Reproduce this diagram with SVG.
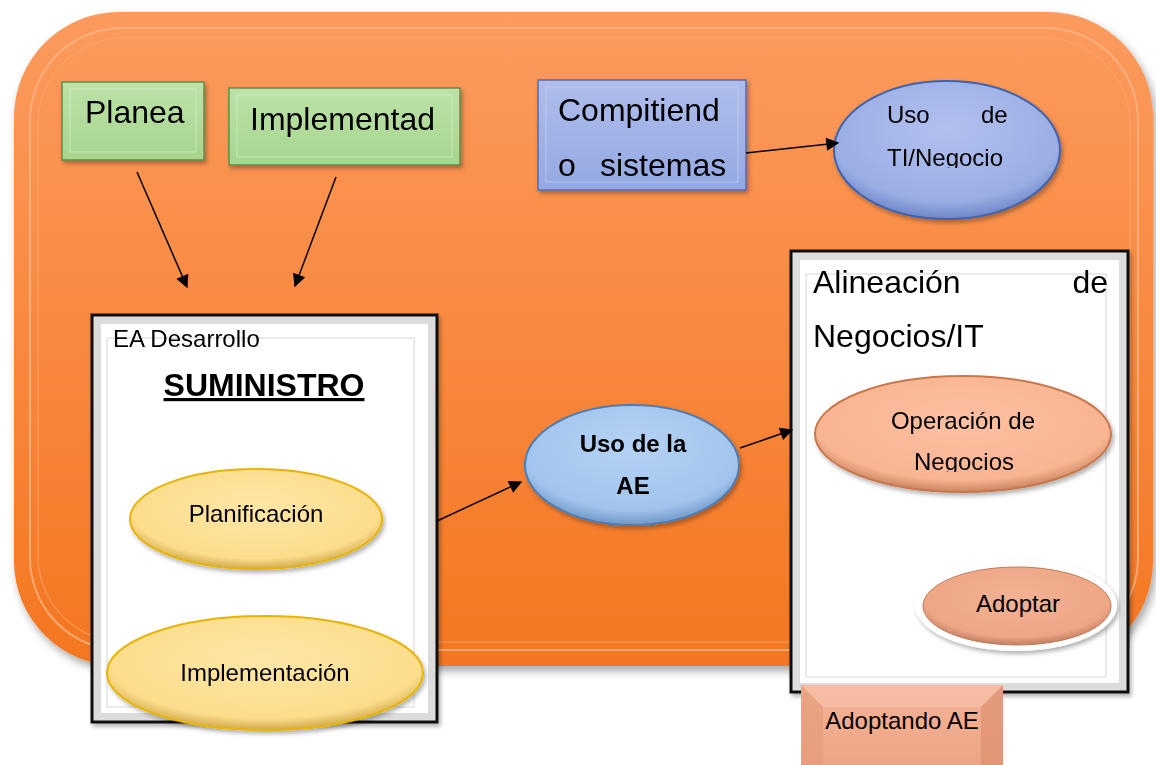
<svg xmlns="http://www.w3.org/2000/svg" width="1156" height="765" viewBox="0 0 1156 765">
<defs>
<linearGradient id="gOr" x1="0" y1="0" x2="0" y2="1"><stop offset="0" stop-color="#FC9B5E"/><stop offset="1" stop-color="#F47620"/></linearGradient>
<linearGradient id="gGreen" x1="0" y1="0" x2="0" y2="1"><stop offset="0" stop-color="#BDE2A8"/><stop offset="1" stop-color="#A6D58E"/></linearGradient>
<linearGradient id="gBlue" x1="0" y1="0" x2="0" y2="1"><stop offset="0" stop-color="#AEBDEB"/><stop offset="1" stop-color="#94A9E2"/></linearGradient>
<radialGradient id="gBlueE" cx="0.5" cy="0.35" r="0.65"><stop offset="0" stop-color="#B2C0EE"/><stop offset="0.8" stop-color="#9AAEE4"/><stop offset="1" stop-color="#6E86C8"/></radialGradient>
<radialGradient id="gLBlue" cx="0.5" cy="0.35" r="0.65"><stop offset="0" stop-color="#B4D2F4"/><stop offset="0.8" stop-color="#A2C4EC"/><stop offset="1" stop-color="#6E98C8"/></radialGradient>
<radialGradient id="gYel" cx="0.5" cy="0.4" r="0.62"><stop offset="0" stop-color="#FEE6A6"/><stop offset="0.8" stop-color="#FCDD8C"/><stop offset="1" stop-color="#C8A040"/></radialGradient>
<radialGradient id="gSal" cx="0.5" cy="0.4" r="0.62"><stop offset="0" stop-color="#FCC0A2"/><stop offset="0.8" stop-color="#F9B492"/><stop offset="1" stop-color="#C07A56"/></radialGradient>
<radialGradient id="gSal2" cx="0.5" cy="0.4" r="0.62"><stop offset="0" stop-color="#F2B294"/><stop offset="0.8" stop-color="#EEA686"/><stop offset="1" stop-color="#B8785A"/></radialGradient>
<linearGradient id="gSalBox" x1="0" y1="0" x2="0" y2="1"><stop offset="0" stop-color="#F4B296"/><stop offset="1" stop-color="#EEA585"/></linearGradient>
<filter id="sh" x="-10%" y="-10%" width="125%" height="125%"><feDropShadow dx="3" dy="5" stdDeviation="4" flood-color="#000" flood-opacity="0.35"/></filter>
<filter id="sh2" x="-10%" y="-10%" width="125%" height="125%"><feDropShadow dx="2" dy="3" stdDeviation="2" flood-color="#000" flood-opacity="0.3"/></filter>
<marker id="ah" viewBox="0 0 10 10" refX="9" refY="5" markerWidth="16" markerHeight="13" markerUnits="userSpaceOnUse" orient="auto"><path d="M0,0 L10,5 L0,10 z" fill="#000"/></marker>
<clipPath id="clipTI"><rect x="880" y="60" width="140" height="108"/></clipPath>
<clipPath id="clipNeg"><rect x="880" y="380" width="170" height="92"/></clipPath>
</defs>
<style>
.t{font-family:"Liberation Sans",Arial,sans-serif;fill:#000}
.big{font-size:32px}
.sm{font-size:24px}
.conn line{stroke:#000;stroke-width:1.5;marker-end:url(#ah)}
</style>
<rect width="1156" height="765" fill="#fff"/>
<g id="background" filter="url(#sh)">
<rect x="14" y="12" width="1139" height="654" rx="105" ry="105" fill="url(#gOr)"/>
<rect x="30" y="28" width="1108" height="622" rx="92" ry="92" fill="none" stroke="#FDB585" stroke-width="2" opacity="0.8"/>
<rect x="38" y="38" width="1092" height="604" rx="86" ry="86" fill="none" stroke="#FCA56C" stroke-width="1.5" opacity="0.6"/>
</g>
<g id="planea" filter="url(#sh2)">
<rect x="62" y="82" width="142" height="78" fill="url(#gGreen)" stroke="#5E8E48" stroke-width="1.5"/>
<rect x="70" y="89" width="126" height="63" fill="none" stroke="#D4EEC6" stroke-width="1" opacity="0.7"/>
<text class="t big" x="85" y="123">Planea</text>
</g>
<g id="implementad" filter="url(#sh2)">
<rect x="229" y="88" width="231" height="77" fill="url(#gGreen)" stroke="#5E8E48" stroke-width="1.5"/>
<rect x="237" y="95" width="215" height="62" fill="none" stroke="#D4EEC6" stroke-width="1" opacity="0.7"/>
<text class="t big" x="250" y="130">Implementad</text>
</g>
<g id="compitiendo" filter="url(#sh2)">
<rect x="538" y="80" width="208" height="110" fill="url(#gBlue)" stroke="#4F6EB8" stroke-width="1.5"/>
<rect x="546" y="87" width="192" height="95" fill="none" stroke="#C6D0F2" stroke-width="1" opacity="0.7"/>
<text class="t big" x="558" y="121">Compitiend</text>
<text class="t big" x="558" y="176">o</text>
<text class="t big" x="600" y="176">sistemas</text>
</g>
<g id="uso-ti" filter="url(#sh2)">
<ellipse cx="947" cy="150" rx="113" ry="69" fill="url(#gBlueE)" stroke="#3F64B0" stroke-width="2"/>
<g clip-path="url(#clipTI)">
<text class="t sm" x="887" y="123">Uso</text>
<text class="t sm" x="981" y="123">de</text>
<text class="t sm" x="887" y="166">TI/Negocio</text>
</g>
</g>
<g id="ea-desarrollo" filter="url(#sh2)">
<rect x="92" y="315" width="345" height="407" fill="#DCDCDC" stroke="#111" stroke-width="3"/>
<rect x="101" y="324" width="327" height="389" fill="#fff"/>
<rect x="107" y="338" width="307" height="369" fill="none" stroke="#E4E4E4" stroke-width="1.5"/>
<text class="t sm" x="113" y="347">EA Desarrollo</text>
<text class="t big" x="264" y="396" font-weight="bold" text-anchor="middle" text-decoration="underline">SUMINISTRO</text>
</g>
<g id="planificacion" filter="url(#sh2)">
<ellipse cx="256" cy="519" rx="126" ry="50" fill="url(#gYel)" stroke="#E8B400" stroke-width="2"/>
<text class="t sm" x="256" y="522" text-anchor="middle">Planificación</text>
</g>
<g id="implementacion" filter="url(#sh2)">
<ellipse cx="265" cy="673" rx="158" ry="57" fill="url(#gYel)" stroke="#E8B400" stroke-width="2"/>
<text class="t sm" x="265" y="681" text-anchor="middle">Implementación</text>
</g>
<g id="uso-ae" filter="url(#sh2)">
<ellipse cx="632" cy="465" rx="107" ry="60" fill="url(#gLBlue)" stroke="#4A7EB8" stroke-width="2"/>
<text class="t sm" x="633" y="452" font-weight="bold" text-anchor="middle">Uso de la</text>
<text class="t sm" x="633" y="494" font-weight="bold" text-anchor="middle">AE</text>
</g>
<g id="alineacion" filter="url(#sh2)">
<rect x="791" y="251" width="337" height="441" fill="#DCDCDC" stroke="#111" stroke-width="3"/>
<rect x="800" y="260" width="319" height="423" fill="#fff"/>
<rect x="806" y="274" width="300" height="403" fill="none" stroke="#E4E4E4" stroke-width="1.5"/>
<text class="t big" x="813" y="293">Alineación</text>
<text class="t big" x="1108" y="293" text-anchor="end">de</text>
<text class="t big" x="813" y="347">Negocios/IT</text>
</g>
<g id="operacion" filter="url(#sh2)">
<ellipse cx="963" cy="434" rx="148" ry="58" fill="url(#gSal)" stroke="#C8784C" stroke-width="2"/>
<g clip-path="url(#clipNeg)">
<text class="t sm" x="963" y="429" text-anchor="middle">Operación de</text>
<text class="t sm" x="964" y="470" text-anchor="middle">Negocios</text>
</g>
</g>
<g id="adoptar">
<ellipse cx="1016" cy="605" rx="101" ry="46" fill="#fff" filter="url(#sh2)"/>
<ellipse cx="1017" cy="606" rx="94" ry="39" fill="url(#gSal2)" stroke="#C07A58" stroke-width="1"/>
<text class="t sm" x="1018" y="612" text-anchor="middle">Adoptar</text>
</g>
<g id="adoptando-ae">
<rect x="801" y="685" width="202" height="82" fill="url(#gSalBox)"/>
<path d="M801,685 L823,707 L981,707 L1003,685 z" fill="#F7C2A8" opacity="0.7"/>
<path d="M801,685 L823,707 L823,765 L801,765 z" fill="#E49A7A" opacity="0.6"/>
<path d="M1003,685 L981,707 L981,765 L1003,765 z" fill="#D88C6C" opacity="0.6"/>
<text class="t sm" x="902" y="729" text-anchor="middle">Adoptando AE</text>
</g>
<g id="connectors" class="conn">
<line x1="137" y1="172" x2="187" y2="287"/>
<line x1="336" y1="177" x2="295" y2="286"/>
<line x1="746" y1="153" x2="838" y2="143"/>
<line x1="437" y1="521" x2="521" y2="482"/>
<line x1="740" y1="448" x2="792" y2="430"/>
</g>
</svg>
